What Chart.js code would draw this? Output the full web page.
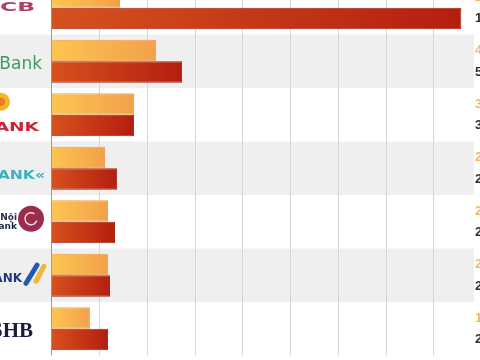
<!DOCTYPE html>
<html>
<head>
<meta charset="utf-8">
<script src="https://cdn.jsdelivr.net/npm/chart.js@4/dist/chart.umd.min.js"></script>
<style>
    html, body { margin: 0; padding: 0; width: 480px; height: 360px; overflow: hidden; background: #fff; }
    #wrap { position: absolute; left: 0; top: -19px; width: 540px; height: 379px; }
</style>
</head>
<body>
<div id="wrap"><canvas id="bankChart"></canvas></div>
<script>
// Bank names (left column), two series per bank
const banks = ['SCB', 'VPBank', 'HDBANK', 'OCEANBANK«', ['Hà Nội', 'Bank'], 'VIETBANK', 'SHB'];
const seriesNames = ['Năm 2011', 'Năm 2012'];
const lightValues = [2870, 4380, 3460, 2240, 2370, 2370, 1610];
const darkValues = [17170, 5470, 3460, 2750, 2660, 2450, 2370];
const axisMax = 17700;
const axisStep = 2000;

// label look per row: right edge, vertical shift, font, colour, horizontal stretch
const labelStyles = [
    { right: 35, dy: 0, font: '600 12px "DejaVu Sans"', color: '#b04062', stretch: 1.95 },
    { right: 42, dy: 3, font: '17px "DejaVu Sans"', color: '#3c9c64', stretch: 1 },
    { right: 39, dy: 13, font: 'bold 12px "DejaVu Sans"', color: '#c8243c', stretch: 1.55 },
    { right: 45, dy: 8, font: 'bold 12px "DejaVu Sans"', color: '#3ab0c0', stretch: 1.3 },
    { right: 17, dy: 0, font: 'bold 9px "DejaVu Sans"', color: '#1e2a50', stretch: 1 },
    { right: 22, dy: 4, font: 'bold 12px "DejaVu Sans"', color: '#1e3a7a', stretch: 1 },
    { right: 33, dy: 3, font: 'bold 21px "Liberation Serif"', color: '#1c1c3c', stretch: 1 }
];

function fmt(v) {
    return String(v).replace(/\B(?=(\d{3})+(?!\d))/g, '.');
}

function barGradient(context, from, to) {
    const chart = context.chart;
    if (!chart.chartArea || !chart.scales.x) return to;
    const x0 = chart.scales.x.getPixelForValue(0);
    const x1 = chart.scales.x.getPixelForValue(context.raw);
    const g = chart.ctx.createLinearGradient(x0, 0, Math.max(x1, x0 + 1), 0);
    g.addColorStop(0, from);
    g.addColorStop(1, to);
    return g;
}

// alternating grey rows and the vertical grid behind the bars
const rowBands = {
    id: 'rowBands',
    beforeDatasetsDraw(chart) {
        const { ctx, chartArea, scales: { x, y } } = chart;
        const half = (y.getPixelForValue(1) - y.getPixelForValue(0)) / 2;
        ctx.save();
        ctx.fillStyle = '#efefef';
        banks.forEach((b, i) => {
            if (i % 2 === 1) {
                const c = y.getPixelForValue(i);
                ctx.fillRect(0, c - half, chartArea.right, half * 2);
            }
        });
        ctx.strokeStyle = '#d6d6d6';
        ctx.lineWidth = 1;
        for (let v = axisStep; v <= axisMax; v += axisStep) {
            const px = Math.round(x.getPixelForValue(v)) + 0.5;
            ctx.beginPath();
            ctx.moveTo(px, chartArea.top);
            ctx.lineTo(px, chartArea.bottom);
            ctx.stroke();
        }
        ctx.strokeStyle = '#9a9a9a';
        const x0 = Math.round(x.getPixelForValue(0)) - 0.5;
        ctx.beginPath();
        ctx.moveTo(x0, chartArea.top);
        ctx.lineTo(x0, chartArea.bottom);
        ctx.stroke();
        ctx.restore();
    }
};

// bank names and rough logo marks in the left column
const bankLabels = {
    id: 'bankLabels',
    afterDraw(chart) {
        const { ctx, scales: { y } } = chart;
        ctx.save();
        ctx.textAlign = 'right';
        ctx.textBaseline = 'middle';
        banks.forEach((name, i) => {
            const s = labelStyles[i];
            const c = y.getPixelForValue(i) + s.dy;
            ctx.font = s.font;
            ctx.fillStyle = s.color;
            const lines = Array.isArray(name) ? name : [name];
            lines.forEach((line, k) => {
                ctx.save();
                ctx.translate(s.right, c + (k - (lines.length - 1) / 2) * 9);
                ctx.scale(s.stretch, 1);
                ctx.fillText(line, 0, 0);
                ctx.restore();
            });
        });

        // HDBank sun
        let c = y.getPixelForValue(2);
        ctx.fillStyle = '#f7b422';
        ctx.beginPath(); ctx.arc(1, c - 13, 9, 0, Math.PI * 2); ctx.fill();
        ctx.fillStyle = '#ec7a1c';
        ctx.beginPath(); ctx.arc(1, c - 13, 4, 0, Math.PI * 2); ctx.fill();

        // round maroon logo
        c = y.getPixelForValue(4);
        ctx.fillStyle = '#9a2c4c';
        ctx.beginPath(); ctx.arc(31, c - 3, 13, 0, Math.PI * 2); ctx.fill();
        ctx.strokeStyle = '#f4d8e0';
        ctx.lineWidth = 1.5;
        ctx.beginPath(); ctx.arc(31, c - 3, 6, 0.3, Math.PI * 1.7); ctx.stroke();

        // blue / yellow stripes
        c = y.getPixelForValue(5);
        ctx.lineCap = 'round';
        ctx.lineWidth = 5;
        ctx.strokeStyle = '#1f5cb0';
        ctx.beginPath(); ctx.moveTo(26, c + 8); ctx.lineTo(37, c - 10); ctx.stroke();
        ctx.strokeStyle = '#f2b536';
        ctx.beginPath(); ctx.moveTo(36, c + 6); ctx.lineTo(44, c - 9); ctx.stroke();
        ctx.restore();
    }
};

// value column on the right
const valueLabels = {
    id: 'valueLabels',
    afterDatasetsDraw(chart) {
        const { ctx, chartArea } = chart;
        ctx.save();
        ctx.font = 'bold 13px "Liberation Sans"';
        ctx.textAlign = 'left';
        ctx.textBaseline = 'middle';
        chart.data.datasets.forEach((ds, di) => {
            const meta = chart.getDatasetMeta(di);
            ctx.fillStyle = di === 0 ? '#f2b860' : '#3a2a22';
            meta.data.forEach((bar, i) => {
                ctx.fillText(fmt(ds.data[i]), chartArea.right + 1, bar.y);
            });
        });
        ctx.restore();
    }
};

new Chart(document.getElementById('bankChart'), {
    type: 'bar',
    data: {
        labels: banks,
        datasets: [
            {
                label: seriesNames[0],
                data: lightValues,
                backgroundColor: (ctx) => barGradient(ctx, '#fcc552', '#f3a04a'),
                borderColor: '#f0a04c',
                borderWidth: 1
            },
            {
                label: seriesNames[1],
                data: darkValues,
                backgroundColor: (ctx) => barGradient(ctx, '#d6511e', '#b41e10'),
                borderColor: '#9e2410',
                borderWidth: 1
            }
        ]
    },
    options: {
        indexAxis: 'y',
        responsive: true,
        maintainAspectRatio: false,
        animation: false,
        categoryPercentage: 0.8,
        barPercentage: 1.0,
        layout: { padding: { top: 0, right: 66, bottom: 4.5, left: 0 } },
        plugins: {
            legend: { display: false },
            tooltip: { enabled: false }
        },
        scales: {
            x: {
                min: 0,
                max: axisMax,
                ticks: { display: false, stepSize: axisStep },
                grid: { display: false, drawTicks: false },
                border: { display: false }
            },
            y: {
                ticks: { display: false },
                grid: { display: false, drawTicks: false },
                border: { display: false },
                afterFit(scale) { scale.width = 51.5; }
            }
        }
    },
    plugins: [rowBands, bankLabels, valueLabels]
});
</script>
</body>
</html>
